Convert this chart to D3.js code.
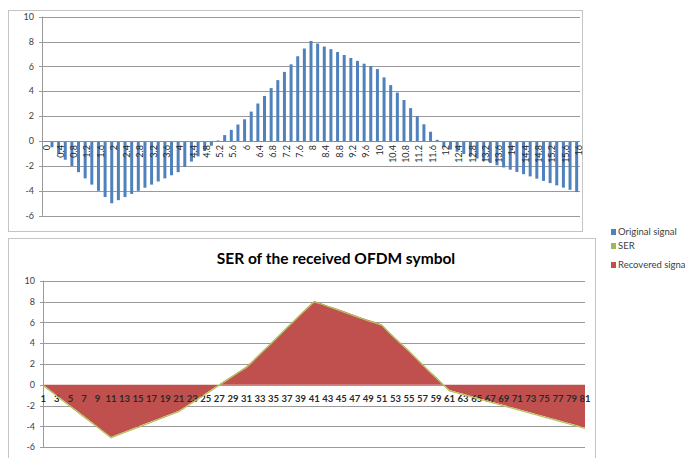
<!DOCTYPE html>
<html>
<head>
<meta charset="utf-8">
<script src="https://cdn.jsdelivr.net/npm/d3@7"></script>
<style>
  body { margin: 0; background: #fff; }
  svg { display: block; }
  text { font-family: Lato, "Open Sans", sans-serif; }
</style>
</head>
<body>
<svg id="chart" width="685" height="458"></svg>
<script>
// x categories of the upper chart (time), one bar each
const topCategories = [
    0, 0.2, 0.4, 0.6, 0.8, 1, 1.2, 1.4, 1.6, 1.8,
    2, 2.2, 2.4, 2.6, 2.8, 3, 3.2, 3.4, 3.6, 3.8,
    4, 4.2, 4.4, 4.6, 4.8, 5, 5.2, 5.4, 5.6, 5.8,
    6, 6.2, 6.4, 6.6, 6.8, 7, 7.2, 7.4, 7.6, 7.8,
    8, 8.2, 8.4, 8.6, 8.8, 9, 9.2, 9.4, 9.6, 9.8,
    10, 10.2, 10.4, 10.6, 10.8, 11, 11.2, 11.4, 11.6, 11.8,
    12, 12.2, 12.4, 12.6, 12.8, 13, 13.2, 13.4, 13.6, 13.8,
    14, 14.2, 14.4, 14.6, 14.8, 15, 15.2, 15.4, 15.6, 15.8,
    16
];
// sample index of the lower chart
const bottomCategories = [
    1, 2, 3, 4, 5, 6, 7, 8, 9, 10,
    11, 12, 13, 14, 15, 16, 17, 18, 19, 20,
    21, 22, 23, 24, 25, 26, 27, 28, 29, 30,
    31, 32, 33, 34, 35, 36, 37, 38, 39, 40,
    41, 42, 43, 44, 45, 46, 47, 48, 49, 50,
    51, 52, 53, 54, 55, 56, 57, 58, 59, 60,
    61, 62, 63, 64, 65, 66, 67, 68, 69, 70,
    71, 72, 73, 74, 75, 76, 77, 78, 79, 80,
    81
];
const originalSignal = [
    0, -0.5, -1.0, -1.5, -2.0, -2.5, -3.0, -3.5, -4.0, -4.5,
    -5.0, -4.75, -4.5, -4.25, -4.0, -3.75, -3.5, -3.25, -3.0, -2.75,
    -2.5, -2.08, -1.65, -1.23, -0.8, -0.38, 0.05, 0.48, 0.9, 1.33,
    1.75, 2.37, 3.02, 3.63, 4.26, 4.9, 5.56, 6.17, 6.82, 7.44,
    8.05, 7.84, 7.6, 7.39, 7.16, 6.92, 6.68, 6.45, 6.22, 6.03,
    5.79, 5.12, 4.5, 3.9, 3.3, 2.65, 2.0, 1.35, 0.75, 0.1,
    -0.5, -0.68, -0.86, -1.04, -1.22, -1.4, -1.58, -1.76, -1.94, -2.12,
    -2.3, -2.48, -2.66, -2.84, -3.02, -3.2, -3.38, -3.56, -3.74, -3.92,
    -4.1
];
// the recovered signal (lower chart) lies on top of the original one,
// the SER outline follows the same points
const recoveredSignal = originalSignal;
const serSignal = recoveredSignal;

const yTicks = [-6, -4, -2, 0, 2, 4, 6, 8, 10];
const topTickLabels = topCategories.filter((d, i) => i % 2 === 0);
const bottomTickLabels = bottomCategories.filter((d, i) => i % 2 === 0);

const legendItems = [
    { name: 'Original signal', color: '#4f81bd' },
    { name: 'SER', color: '#9bbb59' },
    { name: 'Recovered signal', color: '#c0504d' }
];

const svg = d3.select('#chart');
const GRID = '#9a9a9a';
const LABEL = '#404040';

// panel frames
svg.append('rect')
    .attr('x', 8.5).attr('y', 10.5).attr('width', 574).attr('height', 221)
    .attr('fill', '#fff').attr('stroke', '#c4c4c4');
svg.append('rect')
    .attr('x', 8.5).attr('y', 238.5).attr('width', 587).attr('height', 240)
    .attr('fill', '#fff').attr('stroke', '#c4c4c4');

function drawValueAxis (g, y, left, right, labelX) {
    g.selectAll('line.grid')
        .data(yTicks)
        .join('line')
        .attr('class', 'grid')
        .attr('x1', left - 3).attr('x2', right)
        .attr('y1', d => Math.round(y(d)) + 0.5)
        .attr('y2', d => Math.round(y(d)) + 0.5)
        .attr('stroke', GRID);
    g.append('line')
        .attr('x1', left + 0.5).attr('x2', left + 0.5)
        .attr('y1', y(10)).attr('y2', y(-6))
        .attr('stroke', GRID);
    g.selectAll('text.ylab')
        .data(yTicks)
        .join('text')
        .attr('class', 'ylab')
        .attr('x', labelX)
        .attr('y', d => y(d))
        .attr('dy', '0.35em')
        .attr('text-anchor', 'end')
        .attr('font-size', 9)
        .attr('fill', LABEL)
        .text(d => d);
}

// ---- upper chart: original signal as columns
const yTop = d3.scaleLinear().domain([-6, 10]).range([215.7, 16.7]);
const xTop = d3.scaleBand()
    .domain(topCategories)
    .range([42, 580])
    .paddingInner(0.55)
    .paddingOuter(0.275);

const gTop = svg.append('g');
drawValueAxis(gTop, yTop, 42, 580, 34);

gTop.selectAll('rect.bar')
    .data(topCategories)
    .join('rect')
    .attr('class', 'bar')
    .attr('x', d => xTop(d))
    .attr('width', xTop.bandwidth())
    .attr('y', (d, i) => yTop(Math.max(0, originalSignal[i])))
    .attr('height', (d, i) => Math.abs(yTop(originalSignal[i]) - yTop(0)))
    .attr('fill', '#4f81bd');

gTop.append('line')
    .attr('x1', 42).attr('x2', 580)
    .attr('y1', Math.round(yTop(0)) + 0.5).attr('y2', Math.round(yTop(0)) + 0.5)
    .attr('stroke', '#8c8c8c');

gTop.selectAll('text.xlab')
    .data(topTickLabels)
    .join('text')
    .attr('class', 'xlab')
    .attr('transform', d => 'translate(' + (xTop(d) + xTop.bandwidth() / 2 + 2) + ',' + (yTop(0) + 4) + ') rotate(-90)')
    .attr('dy', '0.35em')
    .attr('text-anchor', 'end')
    .attr('font-size', 9)
    .attr('fill', '#262626')
    .text(d => d);

// ---- lower chart: recovered signal as area, SER as outline
const yBot = d3.scaleLinear().domain([-6, 10]).range([447.3, 280.7]);
const xBot = d3.scalePoint().domain(bottomCategories).range([43.3, 585]);

const gBot = svg.append('g');
drawValueAxis(gBot, yBot, 43, 585, 35);

svg.append('text')
    .attr('x', 336)
    .attr('y', 263.5)
    .attr('text-anchor', 'middle')
    .attr('font-family', '"Open Sans", sans-serif')
    .attr('font-weight', 'bold')
    .attr('font-size', 15.5)
    .attr('fill', '#000')
    .text('SER of the received OFDM symbol');

const area = d3.area()
    .x((d, i) => xBot(bottomCategories[i]))
    .y0(yBot(0))
    .y1(d => yBot(d));
gBot.append('path')
    .datum(recoveredSignal)
    .attr('d', area)
    .attr('fill', '#c0504d');

gBot.selectAll('text.xlab')
    .data(bottomTickLabels)
    .join('text')
    .attr('class', 'xlab')
    .attr('x', d => xBot(d))
    .attr('y', yBot(0) + 14)
    .attr('dy', '0.35em')
    .attr('text-anchor', 'middle')
    .attr('font-size', 9.5)
    .attr('font-weight', 'bold')
    .attr('fill', '#2a2a2a')
    .text(d => d);

const line = d3.line()
    .x((d, i) => xBot(bottomCategories[i]))
    .y(d => yBot(d));
gBot.append('path')
    .datum(serSignal)
    .attr('d', line)
    .attr('fill', 'none')
    .attr('stroke', '#b3c35c')
    .attr('stroke-width', 1.3)
    .attr('transform', 'translate(0,0.8)');

// ---- legend
const legendY = [232, 246, 265];
const legend = svg.append('g');
legend.selectAll('rect')
    .data(legendItems)
    .join('rect')
    .attr('x', 611)
    .attr('y', (d, i) => legendY[i] - 3)
    .attr('width', 5).attr('height', 6)
    .attr('fill', d => d.color);
legend.selectAll('text')
    .data(legendItems)
    .join('text')
    .attr('x', 618)
    .attr('y', (d, i) => legendY[i])
    .attr('dy', '0.35em')
    .attr('font-size', 9.5)
    .attr('fill', LABEL)
    .text(d => d.name);
</script>
</body>
</html>
